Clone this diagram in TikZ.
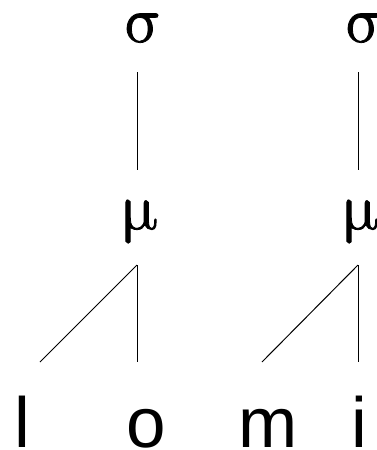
\documentclass[tikz,border=0pt]{standalone}
\usepackage{fontspec}
\usetikzlibrary{positioning}
\newfontfamily\tierserif[FakeBold=1.2]{latinmodern-math.otf}
\newfontfamily\segsans{Liberation Sans}
\tikzset{
  tier/.style={inner sep=0pt, text height=28pt, text depth=16pt, anchor=base,
               font=\tierserif\fontsize{66}{66}\selectfont},
  seg/.style={inner sep=0pt, text height=51pt, text depth=0pt, anchor=base,
              font=\segsans\fontsize{71}{71}\selectfont},
  tie/.style={line width=1pt},
}

\begin{document}
\begin{tikzpicture}[x=1pt, y=-1pt]
  \useasboundingbox (0,0) rectangle (377,450);

  % syllables and moras
  \node[tier] (s1) at (143,42) {σ};
  \node[tier] (s2) at (364,42) {σ};
  \node[tier] (m1) at (139,229) {μ};
  \node[tier] (m2) at (360,229) {μ};

  % segments
  \node[seg] (l) at (22,447) {l};
  \node[seg] (o) at (146,447) {o};
  \node[seg] (m) at (268,447) {m};
  \node[seg] (i) at (359,447) {i};

  \coordinate (s1-foot) at (137,72);
  \coordinate (s2-foot) at (358,72);
  \coordinate (m1-head) at (137,170);
  \coordinate (m2-head) at (358,170);
  \coordinate (m1-foot) at (137,265);
  \coordinate (m2-foot) at (358,265);
  \coordinate (l-top) at (40,362);
  \coordinate (o-top) at (137,362);
  \coordinate (m-top) at (262,362);
  \coordinate (i-top) at (358,362);

  \draw[tie] (s1-foot) -- (m1-head);
  \draw[tie] (s2-foot) -- (m2-head);

  \draw[tie] (m1-foot) -- (l-top);
  \draw[tie] (m1-foot) -- (o-top);
  \draw[tie] (m2-foot) -- (m-top);
  \draw[tie] (m2-foot) -- (i-top);
\end{tikzpicture}
\end{document}
